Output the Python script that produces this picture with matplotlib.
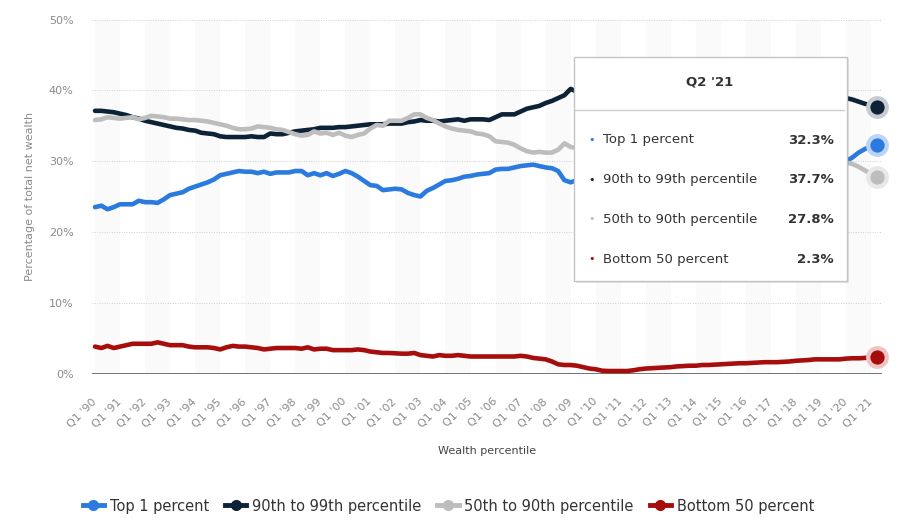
import matplotlib.pyplot as plt
import numpy as np
from matplotlib.patches import Rectangle
from matplotlib.lines import Line2D

plt.rcParams['font.family'] = ['DejaVu Sans']

# quarterly data, Q1 '90 .. Q2 '21 (one row per year)
tick_labels = ["Q1 '%02d" % (y % 100) for y in range(1990, 2022)]
series_names = ['Top 1 percent', '90th to 99th percentile',
                '50th to 90th percentile', 'Bottom 50 percent']
last_quarter = "Q2 '21"

top_1 = [
    23.5, 23.7, 23.2, 23.5,  23.9, 23.9, 23.9, 24.4,  24.2, 24.2, 24.1, 24.6,
    25.2, 25.4, 25.6, 26.1,  26.4, 26.7, 27.0, 27.4,  28.0, 28.2, 28.4, 28.6,
    28.5, 28.5, 28.3, 28.5,  28.2, 28.4, 28.4, 28.4,  28.6, 28.6, 28.0, 28.3,
    28.0, 28.3, 27.9, 28.2,  28.6, 28.3, 27.8, 27.2,  26.6, 26.5, 25.9, 26.0,
    26.1, 26.0, 25.5, 25.2,  25.0, 25.8, 26.2, 26.7,  27.2, 27.3, 27.5, 27.8,
    27.9, 28.1, 28.2, 28.3,  28.8, 28.9, 28.9, 29.1,  29.3, 29.4, 29.5, 29.3,
    29.1, 29.0, 28.6, 27.3,  27.0, 27.3, 27.6, 27.8,  28.0, 27.8, 28.2, 28.5,
    28.6, 28.5, 28.0, 28.3,  28.8, 28.7, 29.0, 29.2,  29.5, 29.6, 29.8, 30.1,
    30.2, 30.3, 30.3, 30.5,  30.6, 30.4, 30.1, 30.3,  30.3, 30.4, 30.5, 30.6,
    30.9, 31.0, 31.2, 31.4,  31.6, 31.6, 31.8, 31.0,  31.6, 31.7, 31.6, 31.9,
    30.0, 30.5, 31.2, 31.7,  32.1, 32.3,
]
p90_99 = [
    37.1, 37.1, 37.0, 36.9,  36.7, 36.5, 36.2, 36.0,  35.7, 35.5, 35.3, 35.1,
    34.9, 34.7, 34.6, 34.4,  34.3, 34.0, 33.9, 33.8,  33.5, 33.4, 33.4, 33.4,
    33.4, 33.5, 33.4, 33.4,  33.9, 33.8, 33.8, 34.0,  34.2, 34.3, 34.4, 34.5,
    34.7, 34.7, 34.7, 34.8,  34.8, 34.9, 35.0, 35.1,  35.2, 35.2, 35.2, 35.3,
    35.3, 35.3, 35.5, 35.6,  35.8, 35.7, 35.7, 35.6,  35.7, 35.8, 35.9, 35.7,
    35.9, 35.9, 35.9, 35.8,  36.2, 36.6, 36.6, 36.6,  37.0, 37.4, 37.6, 37.8,
    38.2, 38.5, 38.9, 39.3,  40.2, 39.8, 39.5, 39.3,  39.4, 39.6, 39.3, 39.0,
    39.0, 39.1, 39.5, 39.2,  39.0, 39.0, 38.9, 38.8,  38.7, 38.6, 38.5, 38.4,
    38.4, 38.3, 38.4, 38.3,  38.4, 38.5, 38.7, 38.6,  38.7, 38.6, 38.5, 38.5,
    38.3, 38.2, 38.1, 38.0,  37.9, 38.0, 38.0, 38.8,  38.5, 38.6, 38.7, 38.6,
    38.9, 38.7, 38.4, 38.1,  37.9, 37.7,
]
p50_90 = [
    35.8, 35.9, 36.2, 36.1,  36.0, 36.1, 36.2, 35.9,  36.1, 36.4, 36.3, 36.2,
    36.0, 36.0, 35.9, 35.8,  35.8, 35.7, 35.6, 35.4,  35.2, 35.0, 34.7, 34.5,
    34.5, 34.6, 34.9, 34.8,  34.7, 34.5, 34.4, 34.1,  33.8, 33.6, 33.7, 34.2,
    33.9, 34.0, 33.7, 34.0,  33.6, 33.4, 33.7, 33.9,  34.6, 35.1, 35.0, 35.7,
    35.7, 35.7, 36.1, 36.6,  36.6, 36.1, 35.8, 35.3,  34.9, 34.6, 34.4, 34.3,
    34.2, 33.9, 33.8, 33.5,  32.8, 32.7, 32.6, 32.3,  31.8, 31.4, 31.2, 31.3,
    31.2, 31.2, 31.6, 32.5,  32.0, 31.8, 31.5, 31.3,  31.2, 31.4, 31.2, 30.9,
    30.8, 30.9, 31.3, 31.0,  30.9, 30.8, 30.6, 30.5,  30.3, 30.2, 30.0, 29.9,
    29.9, 29.8, 29.8, 29.7,  29.6, 29.7, 29.9, 29.8,  29.8, 29.7, 29.7, 29.6,
    29.5, 29.4, 29.3, 29.3,  29.2, 29.3, 29.3, 30.0,  29.6, 29.5, 29.5, 29.3,
    29.8, 29.6, 29.2, 28.7,  28.2, 27.8,
]
bottom_50 = [
    3.8, 3.6, 3.9, 3.6,  3.8, 4.0, 4.2, 4.2,  4.2, 4.2, 4.4, 4.2,
    4.0, 4.0, 4.0, 3.8,  3.7, 3.7, 3.7, 3.6,  3.4, 3.7, 3.9, 3.8,
    3.8, 3.7, 3.6, 3.4,  3.5, 3.6, 3.6, 3.6,  3.6, 3.5, 3.7, 3.4,
    3.5, 3.5, 3.3, 3.3,  3.3, 3.3, 3.4, 3.3,  3.1, 3.0, 2.9, 2.9,
    2.85, 2.8, 2.8, 2.9,  2.6, 2.5, 2.4, 2.6,  2.5, 2.5, 2.6, 2.5,
    2.4, 2.4, 2.4, 2.4,  2.4, 2.4, 2.4, 2.4,  2.5, 2.4, 2.2, 2.1,
    2.0, 1.7, 1.3, 1.2,  1.2, 1.1, 0.9, 0.7,  0.6, 0.4, 0.35, 0.35,
    0.35, 0.35, 0.45, 0.6,  0.7, 0.75, 0.8, 0.85,  0.9, 1.0, 1.05, 1.1,
    1.1, 1.2, 1.2, 1.25,  1.3, 1.35, 1.4, 1.45,  1.45, 1.5, 1.55, 1.6,
    1.6, 1.6, 1.65, 1.7,  1.8, 1.85, 1.9, 2.0,  2.0, 2.0, 2.0, 2.0,
    2.1, 2.15, 2.15, 2.2,  2.25, 2.3,
]

series = [top_1, p90_99, p50_90, bottom_50]
colors = ['#2b7bde', '#0d2137', '#bdbdbd', '#a80d0d']
halo = ['#bcd5f4', '#c8ccd1', '#e8e8e8', '#f1c4c4']

W, H = 897, 522
fig = plt.figure(figsize=(W / 100, H / 100), dpi=100)
# plot area in pixels: x 91.7..881.7, y 19.5..373.5
ax = fig.add_axes([91.7 / W, 1 - 373.5 / H, 790 / W, 354 / H])

x = np.arange(len(top_1))

# alternating year bands
for k in range(0, len(x), 8):
    ax.axvspan(k, k + 4, color='#fafafa', lw=0, zorder=0)

for v in [10, 20, 30, 40, 50]:
    ax.axhline(v, color='#cfcfcf', lw=0.7, ls=(0, (1, 1.5)), zorder=1)
ax.axhline(0, color='#666666', lw=2, zorder=2)

for vals, c, hc in zip(series, colors, halo):
    ax.plot(x, vals, color=c, lw=3.3, solid_capstyle='round',
            solid_joinstyle='round', zorder=3)
    ax.scatter(x[-1], vals[-1], s=270, color=hc, zorder=4, clip_on=False, lw=0)
    ax.scatter(x[-1], vals[-1], s=105, color=c, zorder=5, clip_on=False, lw=0)

ax.set_xlim(-0.53, 125.7)
ax.set_ylim(0, 50)
for s in ax.spines.values():
    s.set_visible(False)

ax.set_yticks([0, 10, 20, 30, 40, 50])
ax.set_yticklabels(['0%', '10%', '20%', '30%', '40%', '50%'])
ax.set_xticks(np.arange(0, len(x), 4))
ax.set_xticklabels(tick_labels, rotation=45, ha='right', va='center',
                   rotation_mode='anchor')
ax.tick_params(axis='y', length=0, pad=13, labelsize=8, labelcolor='#8a8a8a')
ax.tick_params(axis='x', length=0, pad=19, labelsize=8, labelcolor='#8a8a8a')

ax.set_ylabel('Percentage of total net wealth', fontsize=8, color='#8a8a8a',
              labelpad=10)
ax.set_xlabel('Wealth percentile', fontsize=8, color='#444444', labelpad=12)

# legend
handles = [Line2D([0], [0], color=c, lw=3.5, marker='o', ms=7) for c in colors]
leg = fig.legend(handles, series_names, loc='center', ncol=4, frameon=False,
                 bbox_to_anchor=(0.5, 1 - 506 / H), fontsize=10.5,
                 handlelength=1.45, handletextpad=0.4, columnspacing=1.1)
for t in leg.get_texts():
    t.set_color('#333333')

# tooltip box
tx0, tx1, ty0, ty1 = 574, 847, 57, 281
fig.add_artist(Rectangle(((tx0 + 2) / W, 1 - (ty1 + 2) / H), (tx1 - tx0) / W,
                         (ty1 - ty0) / H, transform=fig.transFigure,
                         facecolor='#00000018', lw=0, zorder=10))
fig.add_artist(Rectangle((tx0 / W, 1 - ty1 / H), (tx1 - tx0) / W,
                         (ty1 - ty0) / H, transform=fig.transFigure,
                         facecolor='white', edgecolor='#c4c4c4', lw=1,
                         zorder=11))
fig.text(710 / W, 1 - 82 / H, last_quarter, ha='center', va='center',
         fontsize=9.5, fontweight='bold', color='#333333', zorder=12)
fig.add_artist(Line2D([(tx0 + 1) / W, (tx1 - 3) / W], [1 - 110 / H] * 2,
                      transform=fig.transFigure, color='#cccccc', lw=1,
                      zorder=12))
for row, (name, vals, c) in enumerate(zip(series_names, series, colors)):
    yy = 1 - (140 + row * 39.7) / H
    fig.text(592 / W, yy, '•', ha='center', va='center', fontsize=8,
             color=c, zorder=12)
    fig.text(603 / W, yy, name, ha='left', va='center', fontsize=9.5,
             color='#333333', zorder=12)
    fig.text(834 / W, yy, '%.1f%%' % vals[-1], ha='right', va='center',
             fontsize=9.5, fontweight='bold', color='#333333', zorder=12)

fig.savefig('out.png', dpi=100)
